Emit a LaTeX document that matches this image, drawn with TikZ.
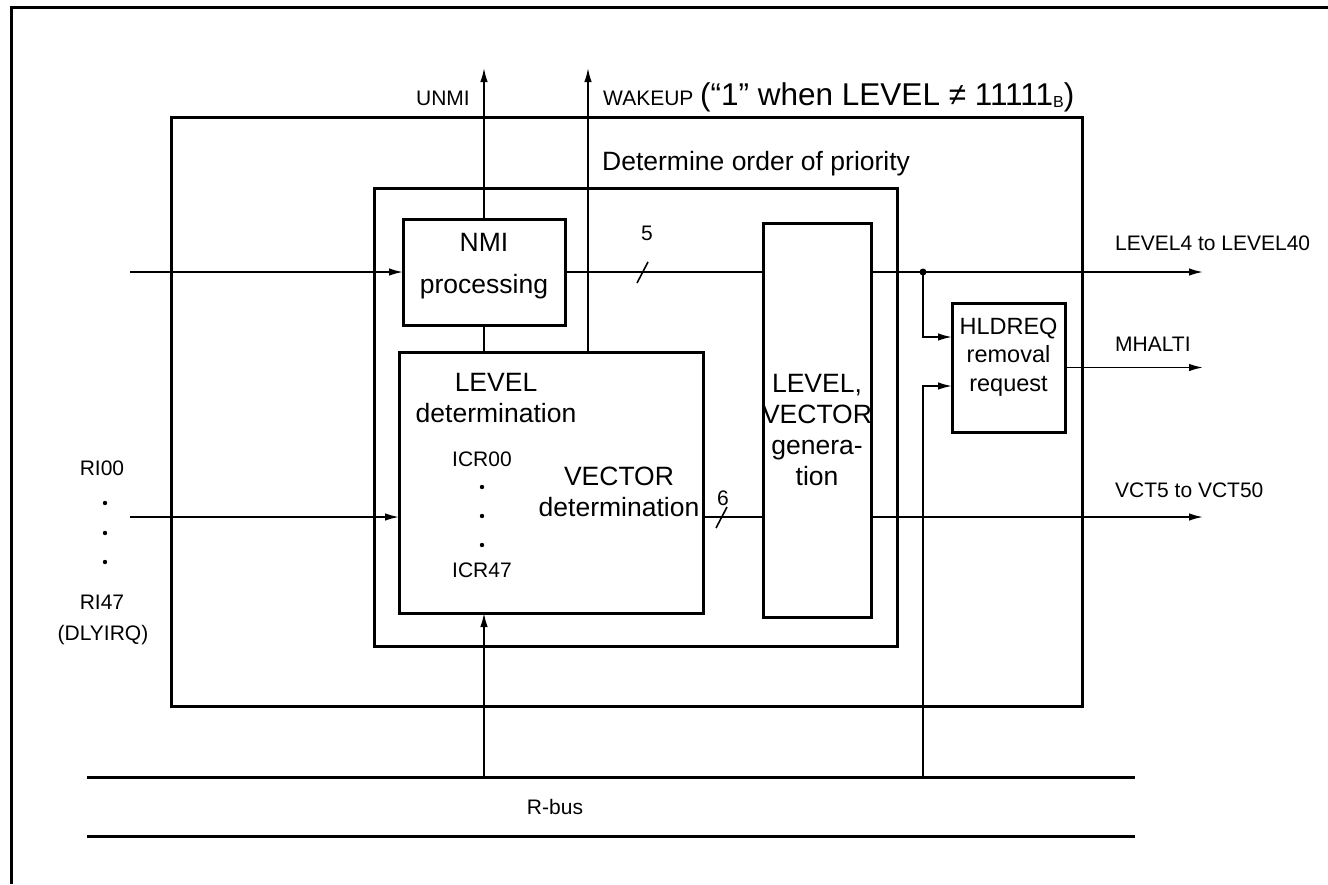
\documentclass[tikz,border=0pt]{standalone}
\usepackage{fontspec}
\setmainfont{Liberation Sans}
\usetikzlibrary{arrows.meta}
\begin{document}
\begin{tikzpicture}[x=1pt,y=-1pt,
  box/.style={draw, line width=3pt, inner sep=0pt, outer sep=0pt},
  wire/.style={line width=1.6pt},
  arr/.style={wire, -{Latex[length=14pt,width=7.5pt]}},
  bigt/.style={font=\fontsize{26.5}{31}\selectfont, inner sep=0pt},
  midt/.style={font=\fontsize{23.5}{28.5}\selectfont, inner sep=0pt},
  smallt/.style={font=\fontsize{21}{25}\selectfont, inner sep=0pt},
]
\useasboundingbox (0,0) rectangle (1328,884);
% page frame
\coordinate (fa) at (11,884);
\coordinate (fb) at (11,7);
\coordinate (fc) at (1328,7);
\draw[line width=3pt] (fa) -- (fb) -- (fc);

% boxes
\node[box, minimum width=911pt, minimum height=589pt] (blk) at (626.5,411.5) {};
\node[box, minimum width=523pt, minimum height=458pt] (pri) at (635.5,417) {};
\node[box, minimum width=162pt, minimum height=106pt] (nmi) at (484,272) {};
\node[box, minimum width=304pt, minimum height=261pt] (lvl) at (551,482.5) {};
\node[box, minimum width=108pt, minimum height=394pt] (lvg) at (817,420) {};
\node[box, minimum width=113pt, minimum height=129pt] (hld) at (1008.5,367.5) {};

% box texts
\node[bigt, align=center, font=\fontsize{26.5}{42}\selectfont] (nmit) at (484,266) {NMI\\processing};
\node[bigt, align=center] (lvlt) at (496,398) {LEVEL\\determination};
\node[smallt] (icr0) at (482,459) {ICR00};
\node[smallt] (icr4) at (482,570) {ICR47};
\fill (482,487) circle (2.2) (482,516) circle (2.2) (482,545) circle (2.2);
\node[bigt, align=center] (vect) at (619,492) {VECTOR\\determination};
\node[bigt, align=center] (lvgt) at (817,430) {LEVEL,\\VECTOR\\genera-\\tion};
\node[midt, align=center] (hldt) at (1008.5,357) {HLDREQ\\removal\\request};
\node[bigt, anchor=west] (prit) at (602,164) {Determine order of priority};

% UNMI and WAKEUP
\coordinate (unmitip) at (484,68);
\coordinate (wktip) at (588,68);
\draw[wire] (lvl.north -| nmi.south) -- (nmi.south);
\draw[arr] (nmi.north) -- (unmitip);
\draw[arr] (lvl.north -| wktip) -- (wktip);
\node[smallt] (unmil) at (443,98) {UNMI};
\node[smallt, anchor=west] (wkl) at (603,98) {WAKEUP};
\node[inner sep=0pt, anchor=west, font=\fontsize{31.5}{36}\selectfont] (wkc) at (700,97) {(“1” when LEVEL ≠ 11111\raisebox{-2pt}{\fontsize{16}{18}\selectfont B})};

% LEVEL path
\coordinate (inN) at (130,272);
\coordinate (outL) at (1203,272);
\coordinate (br) at (923,272);
\draw[arr] (inN) -- (nmi.west |- inN);
\draw[wire] (nmi.east |- inN) -- (lvg.west |- inN);
\draw[arr] (lvg.east |- inN) -- (outL);
\fill (br) circle (3.5);
\draw[wire] (637,283) -- (648,262);
\node[smallt] (n5) at (647,233) {5};
\node[smallt, anchor=west] (ll) at (1115,243) {LEVEL4 to LEVEL40};

% HLDREQ inputs / output
\coordinate (b1) at (923,337);
\coordinate (b2) at (923,386);
\coordinate (bus2) at (923,777);
\draw[arr] (br) |- (hld.west |- b1);
\draw[arr] (bus2) |- (hld.west |- b2);
\coordinate (mhtip) at (1203,367.5);
\draw[arr] (hld.east) -- (mhtip);
\node[smallt, anchor=west] (mhl) at (1115,344) {MHALTI};

% VECTOR path
\coordinate (inV) at (130,517);
\coordinate (outV) at (1203,517);
\draw[arr] (inV) -- (lvl.west |- inV);
\draw[wire] (lvl.east |- inV) -- (lvg.west |- inV);
\draw[arr] (lvg.east |- inV) -- (outV);
\draw[wire] (716,528) -- (727,507);
\node[smallt] (n6) at (723,498) {6};
\node[smallt, anchor=west] (vl) at (1115,490) {VCT5 to VCT50};

% RI labels
\node[smallt] (ri0) at (102,468) {RI00};
\fill (105,503) circle (2.2) (105,533) circle (2.2) (105,562) circle (2.2);
\node[smallt] (ri4) at (102,602) {RI47};
\node[smallt] (dly) at (103,635) {(DLYIRQ)};

% R-bus
\coordinate (ra) at (87,777);
\coordinate (rb) at (1135,777);
\coordinate (rc) at (87,836);
\coordinate (rd) at (1135,836);
\draw[line width=3pt] (ra) -- (rb);
\draw[line width=3pt] (rc) -- (rd);
\coordinate (bus1) at (484,777);
\draw[arr] (bus1) -- (lvl.south -| bus1);
\node[smallt] (rbus) at (555,807) {R-bus};
\end{tikzpicture}
\end{document}
